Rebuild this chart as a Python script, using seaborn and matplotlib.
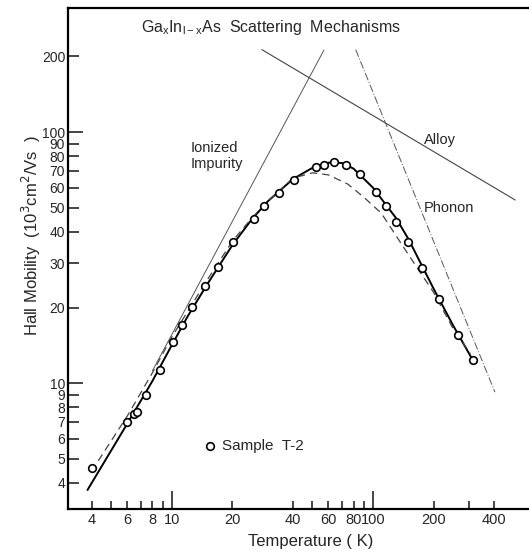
import numpy as np
import pandas as pd
import matplotlib
matplotlib.use("Agg")
import matplotlib.pyplot as plt
import seaborn as sns

# Measured Hall mobility, sample T-2 (10^3 cm^2/Vs)
temp_data = [4.0, 6.0, 6.5, 6.7, 7.4, 8.7, 10.1, 11.2, 12.6, 14.6, 17.0, 20.2, 25.6, 28.8,
             33.9, 40.4, 51.9, 56.9, 63.7, 73.4, 86.2, 103, 116.5, 130, 150, 176, 213, 265, 315]
mob_data = [4.6, 7.0, 7.5, 7.7, 9.0, 11.3, 14.6, 17.0, 20.1, 24.3, 29.1, 36.4, 45.0, 50.8,
            57.0, 64.4, 72.3, 74.1, 75.9, 73.7, 68.0, 57.7, 50.8, 44.0, 36.4, 28.7, 21.7, 15.5, 12.3]

# solid fitted curve
temp_fit = [3.8, 6, 8, 10, 12, 15, 20, 25, 30, 40, 50, 60, 70, 80, 100, 130, 150, 200, 250, 309]
mob_fit = [3.75, 6.9, 10.2, 14.2, 18.5, 24.8, 35.5, 45, 53, 65, 72, 75.5, 75.3, 71.5, 60, 45.5, 37.5, 23.8, 17.0, 12.6]

# dashed curve
temp_dash = [4.3, 6, 8, 10, 15, 20, 25, 30, 40, 50, 60, 75, 90, 110, 150, 200, 250, 305]
mob_dash = [4.9, 7.4, 11.0, 15.3, 25.8, 36.8, 45.5, 53, 65.5, 68.8, 67.5, 62, 55, 47.5, 32.5, 23.0, 16.5, 13.1]

# scattering mechanism limits (end points of the drawn lines)
temp_imp = [8, 57]
mob_imp = [11.2, 212]
temp_alloy = [28, 510]
mob_alloy = [213, 53.6]
temp_phon = [82, 404]
mob_phon = [213, 9.2]

xticks = [4, 6, 8, 10, 20, 40, 60, 80, 100, 200, 400]
xticks_minor = [5, 7, 9, 50, 70, 90, 300]
yticks = [4, 5, 6, 7, 8, 9, 10, 20, 30, 40, 50, 60, 70, 80, 90, 100, 200]

sns.set_theme(style="ticks")
plt.rcParams['font.family'] = ['Liberation Sans', 'DejaVu Sans']

fig = plt.figure(figsize=(5.29, 5.52), dpi=100)
ax = fig.add_axes([68 / 529, 43 / 552, 461 / 529, 501 / 552])

pts = pd.DataFrame({'T': temp_data, 'mu': mob_data})
fit = pd.DataFrame({'T': temp_fit, 'mu': mob_fit})
dash = pd.DataFrame({'T': temp_dash, 'mu': mob_dash})

sns.lineplot(data=fit, x='T', y='mu', ax=ax, color='black', lw=1.4, sort=False, estimator=None)
sns.lineplot(data=dash, x='T', y='mu', ax=ax, color='#444444', lw=0.9, sort=False,
             estimator=None, dashes=False, linestyle=(0, (6, 4)))
ax.plot(temp_imp, mob_imp, color='#555555', lw=0.7)
ax.plot(temp_alloy, mob_alloy, color='#444444', lw=0.8)
ax.plot(temp_phon, mob_phon, color='#555555', lw=0.7, linestyle=(0, (8, 2, 1, 2)))
sns.scatterplot(data=pts, x='T', y='mu', ax=ax, marker='o', s=30, facecolor='white',
                edgecolor='black', linewidth=1.2, zorder=5)

ax.set_xscale('log')
ax.set_yscale('log')
ax.set_xlim(3.04, 597)
ax.set_ylim(3.15, 312)

ax.set_xticks(xticks)
ax.set_xticklabels([str(t) for t in xticks])
ax.set_xticks(xticks_minor, minor=True)
ax.set_yticks(yticks)
ax.set_yticklabels([str(t) for t in yticks])
ax.yaxis.set_minor_locator(matplotlib.ticker.NullLocator())

ax.tick_params(axis='x', which='both', direction='in', length=6, width=1.2, labelsize=10.5, pad=3)
ax.tick_params(axis='y', which='both', direction='in', length=8, width=1.2, labelsize=10, pad=2)
for tk in ax.xaxis.get_major_ticks():
    if tk.get_loc() in (10, 100):
        tk.tick1line.set_markersize(13)
for tk in ax.yaxis.get_major_ticks():
    if tk.get_loc() in (10, 100):
        tk.tick1line.set_markersize(11)

for side in ['left', 'bottom', 'top']:
    ax.spines[side].set_linewidth(1.6)
    ax.spines[side].set_color('black')
ax.spines['right'].set_visible(False)

ax.set_xlabel('Temperature ( K)', fontsize=12)
ax.set_ylabel('Hall Mobility  (10$^3$cm$^2$/Vs  )', fontsize=12)
ax.xaxis.set_label_coords(0.527, -0.05)
ax.yaxis.set_label_coords(-0.054, 0.545)

ax.text(0.44, 0.962, r'Ga$_{\mathregular{x}}$In$_{\mathregular{l-x}}$As  Scattering  Mechanisms',
        transform=ax.transAxes, ha='center', va='center', fontsize=11.5)
ax.text(0.265, 0.735, 'Ionized\nImpurity', transform=ax.transAxes, ha='left', va='top',
        fontsize=10.5, linespacing=1.2)
ax.text(0.772, 0.737, 'Alloy', transform=ax.transAxes, ha='left', va='center', fontsize=10.5)
ax.text(0.772, 0.601, 'Phonon', transform=ax.transAxes, ha='left', va='center', fontsize=10.5)

ax.scatter([0.308], [0.1257], transform=ax.transAxes, marker='o', s=30, facecolor='white',
           edgecolor='black', linewidth=1.2, zorder=5)
ax.text(0.335, 0.1257, 'Sample  T-2', transform=ax.transAxes, ha='left', va='center', fontsize=11)

fig.savefig('out.png', dpi=100)
